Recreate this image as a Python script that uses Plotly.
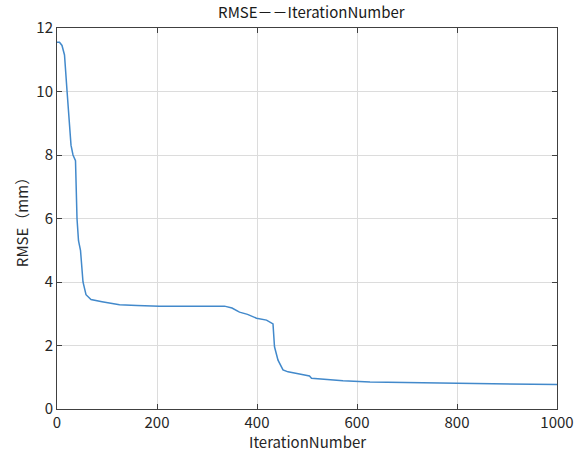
import plotly.graph_objects as go

iterations = [0, 5, 10, 15, 20, 28, 32, 37, 40, 43, 47, 52, 58, 68, 90, 115, 125, 160, 205, 260, 335, 350, 365, 381, 399, 419, 432, 435, 442, 452, 462, 485, 505, 509, 540, 572, 626, 719, 832, 939, 1000]
rmse = [11.55, 11.55, 11.45, 11.15, 10.03, 8.31, 8.0, 7.82, 6.0, 5.3, 5.0, 4.0, 3.6, 3.45, 3.38, 3.31, 3.28, 3.26, 3.24, 3.24, 3.24, 3.18, 3.05, 2.98, 2.86, 2.80, 2.68, 1.96, 1.54, 1.23, 1.17, 1.10, 1.04, 0.97, 0.93, 0.89, 0.85, 0.83, 0.81, 0.79, 0.77]

x_ticks = [0, 200, 400, 600, 800, 1000]
y_ticks = [0, 2, 4, 6, 8, 10, 12]

FONT = "Noto Sans CJK JP"

fig = go.Figure()
fig.add_trace(go.Scatter(x=iterations, y=rmse, mode="lines",
                         line=dict(color="#4289cb", width=1.5), showlegend=False))

axis_common = dict(
    showline=True, linecolor="#404040", linewidth=1, mirror="ticks",
    ticks="inside", ticklen=5, tickcolor="#404040",
    showgrid=True, gridcolor="#dcdcdc", gridwidth=1, zeroline=False,
    automargin=False,
    tickfont=dict(family=FONT, size=15, color="#262626"),
)

fig.update_layout(
    width=582, height=452,
    margin=dict(l=57, r=25, t=28, b=43),
    paper_bgcolor="white", plot_bgcolor="white",
    title=dict(text="RMSE－－IterationNumber", x=0.535, xanchor="center", y=0.972, yanchor="middle",
               font=dict(family=FONT, size=15, color="#1a1a1a")),
    xaxis=dict(range=[0, 1000], tickvals=x_ticks, ticktext=[str(v) for v in x_ticks],
               **axis_common),
    yaxis=dict(range=[0, 12], tickvals=y_ticks, ticktext=[str(v) for v in y_ticks],
               title=dict(text="RMSE（mm）", standoff=4,
                          font=dict(family=FONT, size=15, color="#262626")),
               **axis_common),
    annotations=[dict(text="IterationNumber", xref="paper", yref="paper",
                      x=0.5, y=-0.086, xanchor="center", yanchor="middle", showarrow=False,
                      font=dict(family=FONT, size=15, color="#262626"))],
)

fig.write_html("out.html")
